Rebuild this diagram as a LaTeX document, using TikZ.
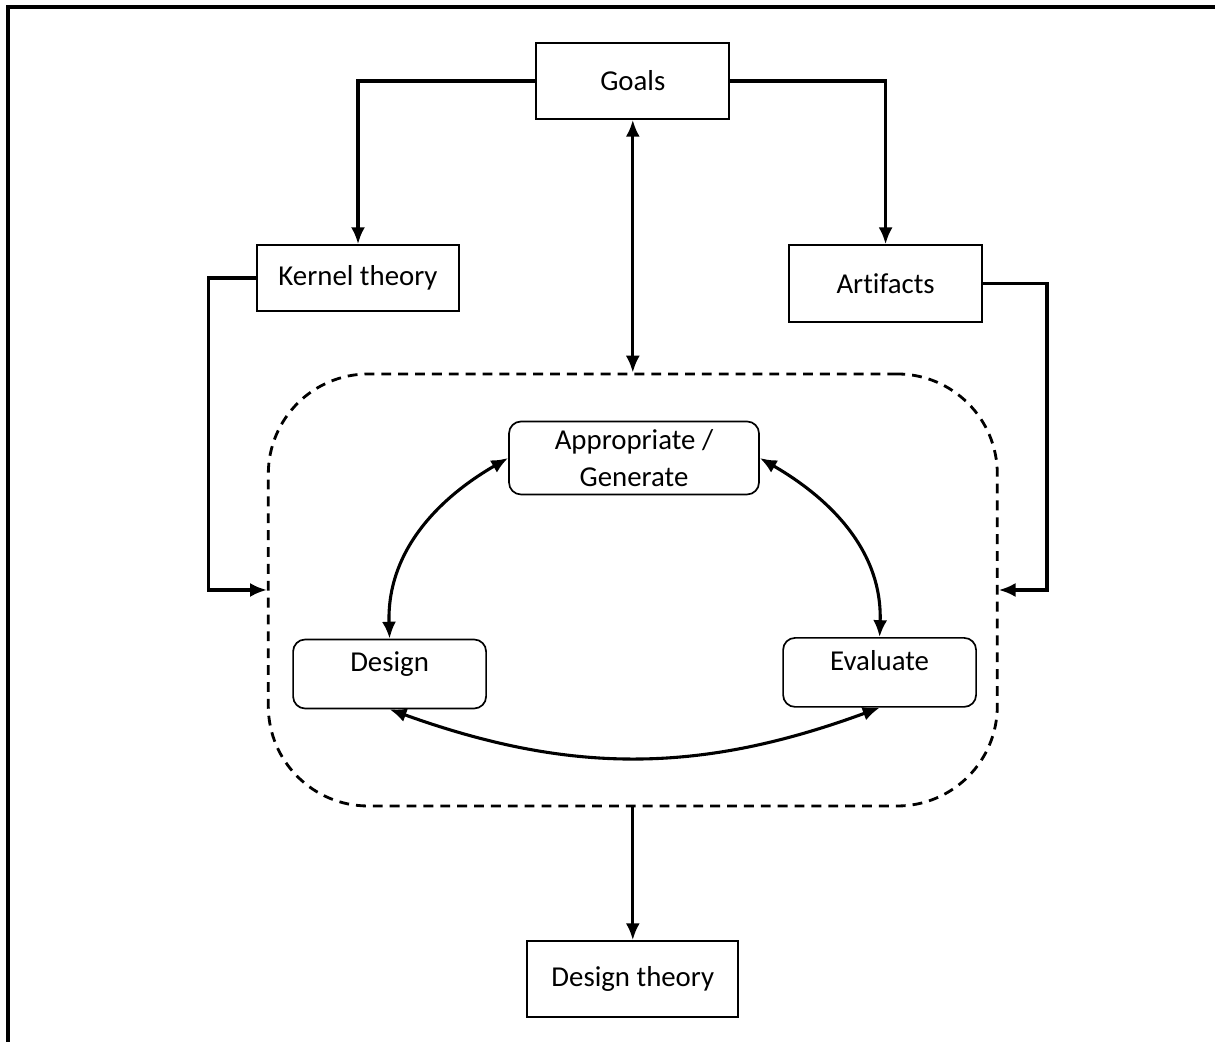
\documentclass[tikz,border=0pt]{standalone}
\usepackage{fontspec}
\setmainfont[Ligatures=NoCommon]{Carlito}
\usetikzlibrary{positioning, arrows.meta}

\begin{document}
\begin{tikzpicture}[font=\fontsize{20.5}{26}\selectfont,
  sqbox/.style={draw, line width=1.2pt, inner sep=0pt, align=center},
  rbox/.style={sqbox, rounded corners=0.3cm},
  topbox/.style={rbox, minimum width=4.825cm, minimum height=1.725cm, text height=0.805cm, text depth=0.92cm},
  conn/.style={line width=2.2pt, -{Latex[length=12pt,width=10pt]}},
  bothconn/.style={line width=2.2pt, {Latex[length=12pt,width=10pt]}-{Latex[length=12pt,width=10pt]}}]
\useasboundingbox (0,0) rectangle (30.375,26.05);
% frame
\draw[line width=2.2pt] (0.2,0) -- (0.2,25.875) -- (30.375,25.875);
% boxes
\node[sqbox, minimum width=4.825cm, minimum height=1.9cm] (goals) at (15.82,24.025) {Goals};
\node[sqbox, minimum width=5.05cm, minimum height=1.65cm] (kernel) at (8.95,19.1) {Kernel theory};
\node[sqbox, minimum width=4.825cm, minimum height=1.925cm] (artifacts) at (22.14,18.96) {Artifacts};
\node[draw, line width=2pt, dash pattern=on 7pt off 5pt, rounded corners=2.5cm, minimum width=18.225cm, minimum height=10.8cm] (loop) at (15.82,11.3) {};
\node[rbox, minimum width=6.25cm, minimum height=1.825cm] (gen) at (15.85,14.6) {Appropriate /\\Generate};
\node[topbox] (design) at (9.74,9.2) {Design};
\node[topbox] (evaluate) at (21.99,9.24) {Evaluate};
\node[sqbox, minimum width=5.275cm, minimum height=1.9cm] (dtheory) at (15.82,1.575) {Design theory};
% connectors
\draw[conn] (goals.west) -| (kernel.north);
\draw[conn] (goals.east) -| (artifacts.north);
\draw[bothconn] (goals.south) -- (loop.north);
\draw[conn] (kernel.west) -- ++(-1.2,0) |- (loop.west);
\draw[conn] (artifacts.east) -- ++(1.6,0) |- (loop.east);
\draw[conn] (loop.south) -- (dtheory.north);
% cycle
\draw[bothconn] (gen.west) to[out=210,in=92] (design.north);
\draw[bothconn] (gen.east) to[out=-30,in=88] (evaluate.north);
\draw[bothconn] (design.south) to[bend right=20] (evaluate.south);
\end{tikzpicture}
\end{document}
